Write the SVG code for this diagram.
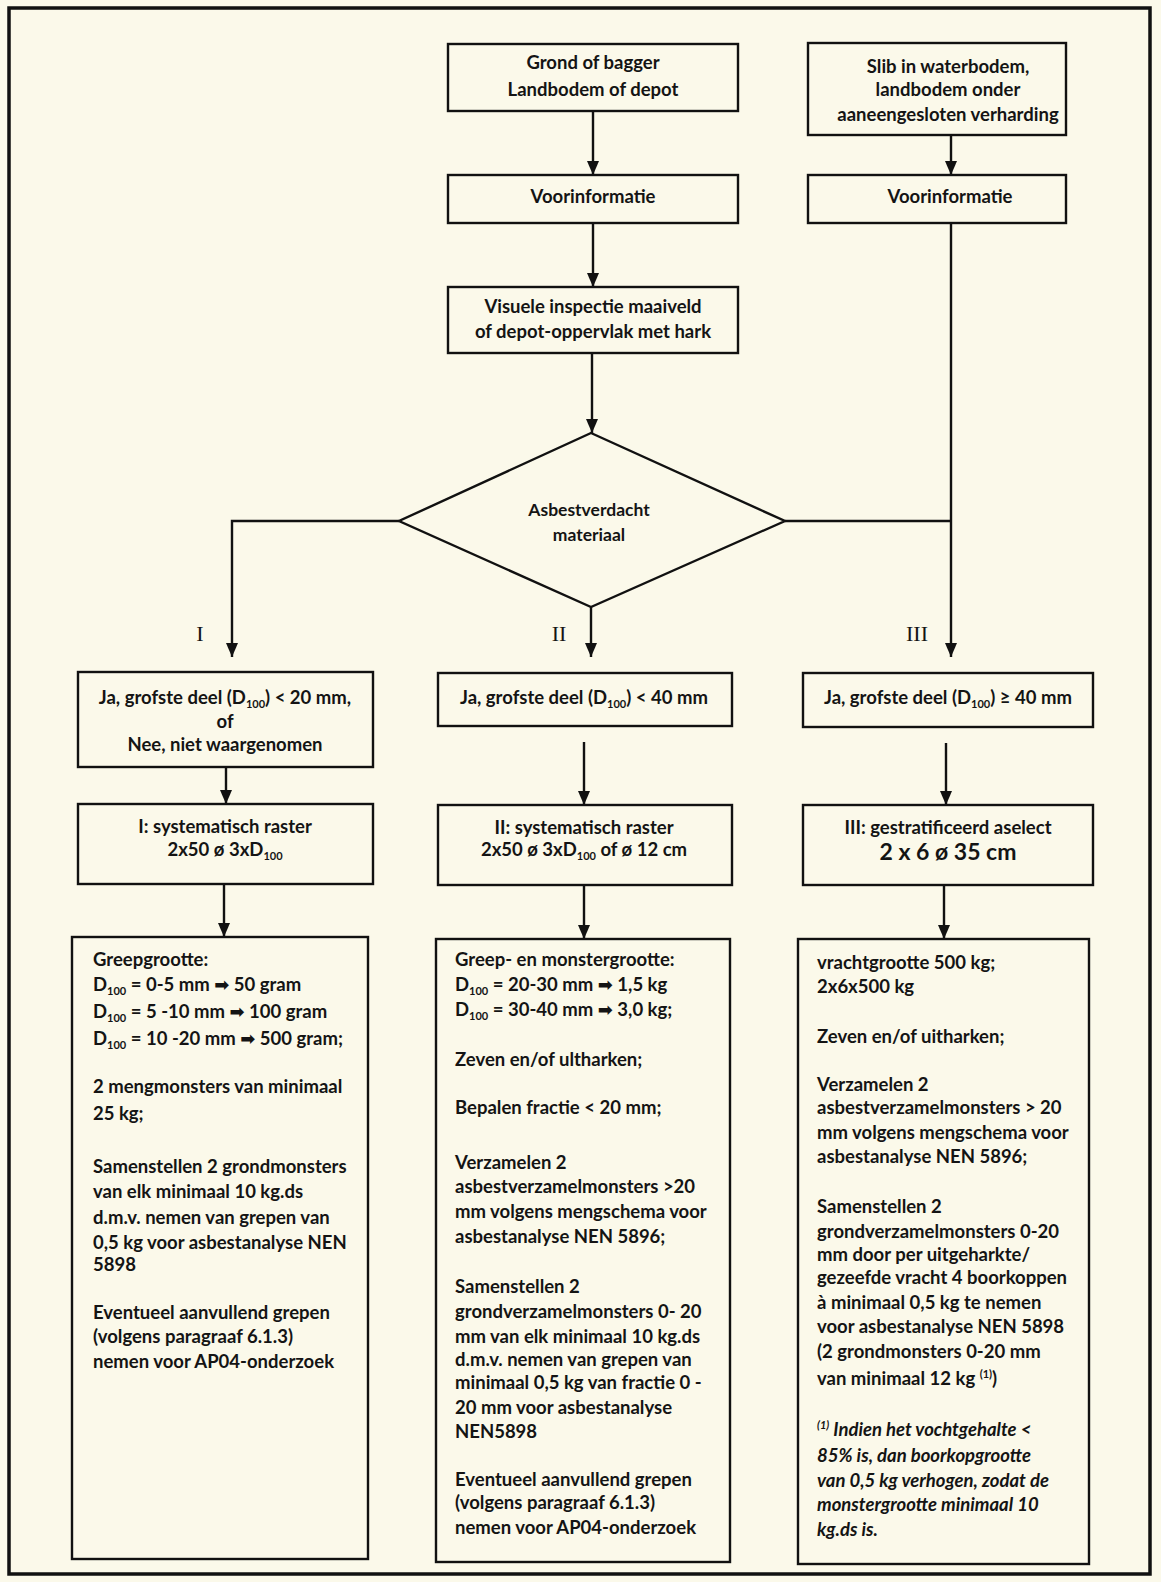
<svg xmlns="http://www.w3.org/2000/svg" width="1161" height="1582" viewBox="0 0 1161 1582">
<defs>
<style>
.bg{fill:#fbf9ea}
.frame{fill:none;stroke:#111;stroke-width:3.5}
.box{fill:none;stroke:#111;stroke-width:2.4}
.t{font-family:Lato,"DejaVu Sans",sans-serif;font-weight:bold;font-size:18.5px;fill:#141414}
.c{text-anchor:middle}
.sub{font-size:11px}
.ar{font-family:"DejaVu Sans",sans-serif;font-weight:bold;font-size:18px}
.it{font-style:italic}
.rom{font-family:"Liberation Serif","DejaVu Serif",serif;font-size:22px;fill:#141414;text-anchor:middle}
.ln{fill:none;stroke:#111;stroke-width:2.4}
</style>
<marker id="ah" viewBox="0 0 14 12" refX="14" refY="6" markerWidth="14" markerHeight="12" markerUnits="userSpaceOnUse" orient="auto">
<path d="M0,0 L14,6 L0,12 z" fill="#111"/>
</marker>
</defs>
<rect class="bg" x="0" y="0" width="1161" height="1582"/>
<rect class="frame" x="9" y="8" width="1141" height="1566"/>

<g id="connectors">
<line class="ln" x1="593" y1="111" x2="593" y2="175" marker-end="url(#ah)"/>
<line class="ln" x1="593" y1="223" x2="593" y2="287" marker-end="url(#ah)"/>
<line class="ln" x1="592" y1="353" x2="592" y2="433" marker-end="url(#ah)"/>
<line class="ln" x1="951" y1="135" x2="951" y2="175" marker-end="url(#ah)"/>
<polyline class="ln" points="399,521 232,521 232,657" marker-end="url(#ah)"/>
<line class="ln" x1="591" y1="607" x2="591" y2="657" marker-end="url(#ah)"/>
<line class="ln" x1="785" y1="521" x2="951" y2="521"/>
<line class="ln" x1="951" y1="223" x2="951" y2="657" marker-end="url(#ah)"/>
<line class="ln" x1="226" y1="767" x2="226" y2="804" marker-end="url(#ah)"/>
<line class="ln" x1="584" y1="742" x2="584" y2="805" marker-end="url(#ah)"/>
<line class="ln" x1="946" y1="743" x2="946" y2="805" marker-end="url(#ah)"/>
<line class="ln" x1="224" y1="884" x2="224" y2="937" marker-end="url(#ah)"/>
<line class="ln" x1="584" y1="885" x2="584" y2="939" marker-end="url(#ah)"/>
<line class="ln" x1="944" y1="885" x2="944" y2="939" marker-end="url(#ah)"/>
</g>

<g id="start-grond">
<rect class="box" x="448" y="44" width="290" height="67"/>
<text class="t c" x="593" y="69">Grond of bagger</text>
<text class="t c" x="593" y="96">Landbodem of depot</text>
</g>
<g id="start-slib">
<rect class="box" x="808" y="43" width="258" height="92"/>
<text class="t c" x="948" y="73">Slib in waterbodem,</text>
<text class="t c" x="948" y="96">landbodem onder</text>
<text class="t c" x="948" y="121">aaneengesloten verharding</text>
</g>
<g id="voorinfo-1">
<rect class="box" x="448" y="175" width="290" height="48"/>
<text class="t c" x="593" y="203">Voorinformatie</text>
</g>
<g id="voorinfo-2">
<rect class="box" x="808" y="175" width="258" height="48"/>
<text class="t c" x="950" y="203">Voorinformatie</text>
</g>
<g id="visuele-inspectie">
<rect class="box" x="448" y="287" width="290" height="66"/>
<text class="t c" x="593" y="313">Visuele inspectie maaiveld</text>
<text class="t c" x="593" y="338">of depot-oppervlak met hark</text>
</g>
<g id="asbestverdacht">
<polygon class="box" points="591,433 785,521 591,607 399,521"/>
<text class="t c" x="589" y="516" style="font-size:17.5px">Asbestverdacht</text>
<text class="t c" x="589" y="541" style="font-size:17.5px">materiaal</text>
</g>
<g id="labels">
<text class="rom" x="200" y="641">I</text>
<text class="rom" x="559" y="641">II</text>
<text class="rom" x="917" y="641">III</text>
</g>

<g id="ja-20">
<rect class="box" x="78" y="672" width="295" height="95"/>
<text class="t c" x="225" y="704">Ja, grofste deel (D<tspan class="sub" dy="4">100</tspan><tspan dy="-4">) &lt; 20 mm,</tspan></text>
<text class="t c" x="225" y="728">of</text>
<text class="t c" x="225" y="751">Nee, niet waargenomen</text>
</g>
<g id="ja-40">
<rect class="box" x="438" y="673" width="294" height="53"/>
<text class="t c" x="584" y="704">Ja, grofste deel (D<tspan class="sub" dy="4">100</tspan><tspan dy="-4">) &lt; 40 mm</tspan></text>
</g>
<g id="ja-ge40">
<rect class="box" x="803" y="673" width="290" height="54"/>
<text class="t c" x="948" y="704">Ja, grofste deel  (D<tspan class="sub" dy="4">100</tspan><tspan dy="-4">) ≥ 40 mm</tspan></text>
</g>

<g id="raster-I">
<rect class="box" x="78" y="804" width="295" height="80"/>
<text class="t c" x="225" y="833">I: systematisch raster</text>
<text class="t c" x="225" y="856">2x50 ø 3xD<tspan class="sub" dy="4">100</tspan></text>
</g>
<g id="raster-II">
<rect class="box" x="438" y="805" width="294" height="80"/>
<text class="t c" x="584" y="834">II: systematisch raster</text>
<text class="t c" x="584" y="856">2x50 ø 3xD<tspan class="sub" dy="4">100</tspan><tspan dy="-4"> of ø 12 cm</tspan></text>
</g>
<g id="aselect-III">
<rect class="box" x="803" y="805" width="290" height="80"/>
<text class="t c" x="948" y="834">III: gestratificeerd aselect</text>
<text class="t c" x="948" y="860" style="font-size:23px">2 x 6  ø 35 cm</text>
</g>

<g id="detail-I">
<rect class="box" x="72" y="937" width="296" height="622"/>
<text class="t" x="93" y="966">Greepgrootte:</text>
<text class="t" x="93" y="991">D<tspan class="sub" dy="4">100</tspan><tspan dy="-4"> = 0-5 mm </tspan><tspan class="ar">➡</tspan><tspan> 50 gram</tspan></text>
<text class="t" x="93" y="1018">D<tspan class="sub" dy="4">100</tspan><tspan dy="-4"> = 5 -10 mm </tspan><tspan class="ar">➡</tspan><tspan> 100 gram</tspan></text>
<text class="t" x="93" y="1045">D<tspan class="sub" dy="4">100</tspan><tspan dy="-4"> = 10 -20 mm </tspan><tspan class="ar">➡</tspan><tspan> 500 gram;</tspan></text>
<text class="t" x="93" y="1093">2 mengmonsters van minimaal</text>
<text class="t" x="93" y="1120">25 kg;</text>
<text class="t" x="93" y="1173">Samenstellen 2 grondmonsters</text>
<text class="t" x="93" y="1198">van elk minimaal 10 kg.ds</text>
<text class="t" x="93" y="1224">d.m.v. nemen van grepen van</text>
<text class="t" x="93" y="1249">0,5 kg voor asbestanalyse NEN</text>
<text class="t" x="93" y="1271">5898</text>
<text class="t" x="93" y="1319">Eventueel aanvullend grepen</text>
<text class="t" x="93" y="1343">(volgens paragraaf  6.1.3)</text>
<text class="t" x="93" y="1368">nemen voor AP04-onderzoek</text>
</g>

<g id="detail-II">
<rect class="box" x="436" y="939" width="294" height="623"/>
<text class="t" x="455" y="966">Greep- en monstergrootte:</text>
<text class="t" x="455" y="991">D<tspan class="sub" dy="4">100</tspan><tspan dy="-4"> = 20-30 mm </tspan><tspan class="ar">➡</tspan><tspan> 1,5 kg</tspan></text>
<text class="t" x="455" y="1016">D<tspan class="sub" dy="4">100</tspan><tspan dy="-4"> = 30-40 mm </tspan><tspan class="ar">➡</tspan><tspan> 3,0 kg;</tspan></text>
<text class="t" x="455" y="1066">Zeven en/of ultharken;</text>
<text class="t" x="455" y="1114">Bepalen fractie &lt; 20 mm;</text>
<text class="t" x="455" y="1169">Verzamelen 2</text>
<text class="t" x="455" y="1193">asbestverzamelmonsters &gt;20</text>
<text class="t" x="455" y="1218">mm volgens mengschema voor</text>
<text class="t" x="455" y="1243">asbestanalyse NEN 5896;</text>
<text class="t" x="455" y="1293">Samenstellen 2</text>
<text class="t" x="455" y="1318">grondverzamelmonsters 0- 20</text>
<text class="t" x="455" y="1343">mm van elk minimaal 10 kg.ds</text>
<text class="t" x="455" y="1366">d.m.v. nemen van grepen van</text>
<text class="t" x="455" y="1389">minimaal 0,5 kg van fractie 0 -</text>
<text class="t" x="455" y="1414">20 mm voor asbestanalyse</text>
<text class="t" x="455" y="1438">NEN5898</text>
<text class="t" x="455" y="1486">Eventueel aanvullend grepen</text>
<text class="t" x="455" y="1509">(volgens paragraaf  6.1.3)</text>
<text class="t" x="455" y="1534">nemen voor AP04-onderzoek</text>
</g>

<g id="detail-III">
<rect class="box" x="798" y="939" width="291" height="625"/>
<text class="t" x="817" y="969">vrachtgrootte 500 kg;</text>
<text class="t" x="817" y="993">2x6x500 kg</text>
<text class="t" x="817" y="1043">Zeven en/of uitharken;</text>
<text class="t" x="817" y="1091">Verzamelen 2</text>
<text class="t" x="817" y="1114">asbestverzamelmonsters &gt; 20</text>
<text class="t" x="817" y="1139">mm volgens mengschema voor</text>
<text class="t" x="817" y="1163">asbestanalyse NEN 5896;</text>
<text class="t" x="817" y="1213">Samenstellen 2</text>
<text class="t" x="817" y="1238">grondverzamelmonsters 0-20</text>
<text class="t" x="817" y="1261">mm door per uitgeharkte/</text>
<text class="t" x="817" y="1284">gezeefde vracht 4 boorkoppen</text>
<text class="t" x="817" y="1309">à minimaal 0,5 kg te nemen</text>
<text class="t" x="817" y="1333">voor asbestanalyse NEN 5898</text>
<text class="t" x="817" y="1358">(2 grondmonsters 0-20  mm</text>
<text class="t" x="817" y="1385">van minimaal 12 kg <tspan class="sub" dy="-7">(1)</tspan><tspan dy="7">)</tspan></text>
<text class="t it" x="817" y="1436"><tspan class="sub" dy="-7">(1)</tspan><tspan dy="7"> Indien het vochtgehalte &lt;</tspan></text>
<text class="t it" x="817" y="1462">85% is, dan boorkopgrootte</text>
<text class="t it" x="817" y="1487">van 0,5 kg verhogen, zodat de</text>
<text class="t it" x="817" y="1511">monstergrootte minimaal 10</text>
<text class="t it" x="817" y="1536">kg.ds is.</text>
</g>
</svg>
